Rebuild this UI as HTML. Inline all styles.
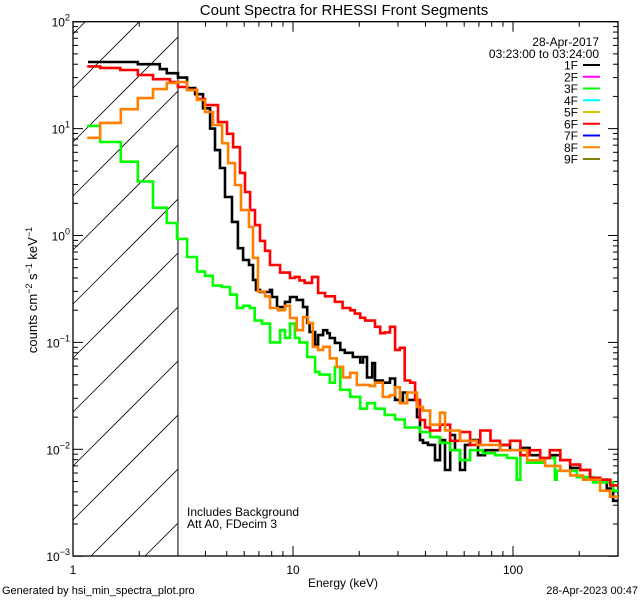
<!DOCTYPE html>
<html><head><meta charset="utf-8">
<style>
html,body{margin:0;padding:0;background:#fff;width:640px;height:600px;overflow:hidden;}
svg{display:block;font-family:"Liberation Sans",sans-serif;overflow:hidden;}
</style></head>
<body>
<svg id="chart" width="640" height="600" viewBox="0 0 640 600" xmlns="http://www.w3.org/2000/svg">
<rect x="0" y="0" width="640" height="600" fill="#fff"/>
<text x="344" y="15" font-size="15" text-anchor="middle">Count Spectra for RHESSI Front Segments</text>
<g id="hatch"></g>
<g id="axes"></g>
<g id="series"></g>
<g id="legend"></g>
<text x="187" y="516" font-size="12">Includes Background</text>
<text x="187" y="528" font-size="12">Att A0, FDecim 3</text>
<text x="343" y="587" font-size="12" text-anchor="middle">Energy (keV)</text>
<text transform="translate(37,290) rotate(-90)" font-size="13" text-anchor="middle">counts cm<tspan dy="-5" font-size="9">−2</tspan><tspan dy="5"> s</tspan><tspan dy="-5" font-size="9">−1</tspan><tspan dy="5"> keV</tspan><tspan dy="-5" font-size="9">−1</tspan></text>
<text x="2" y="594" font-size="11">Generated by hsi_min_spectra_plot.pro</text>
<text x="638" y="594" font-size="11" text-anchor="end">28-Apr-2023 00:47</text>
</svg>
<script>
// ---- data ----
const xTickMajors = [1, 10, 100];
const xTickLabels = ["1", "10", "100"];
const yTickExps = [-3, -2, -1, 0, 1, 2];
const legendLabels = ["1F","2F","3F","4F","5F","6F","7F","8F","9F"];
const legendColors = ["#000000","#ff00ff","#00ff00","#00ffff","#d4c800","#ff0000","#0000ff","#ff8000","#808000"];
const legendHeader = ["28-Apr-2017", "03:23:00 to 03:24:00"];

const blackE = [1.17,1.97,2.48,2.67,3.0,3.3,3.59,3.9,4.2,4.42,4.66,4.91,5.28,5.62,5.93,6.31,6.58,6.79,7.08,7.86,8.03,8.46,9.2,9.69,10.4,11.1,11.6,11.9,12.6,13.0,13.7,14.3,14.7,15.5,16.4,17.2,18.2,18.7,20.2,20.8,21.7,22.9,23.6,24.3,25.6,27.6,29.1,30.6,31.6,33,36.6,37.8,39,41.1,44.2,46.6,49.1,51.8,54.5,57.4,60.5,63.8,69.3,74.6,78.6,87.3,96.9,108,119,133,147,164,182,202,224,249,267,285,300];
const blackV = [42,40,36,33,30,24,21,15.5,10,6.3,4.28,2.29,1.34,0.76,0.59,0.53,0.384,0.31,0.296,0.31,0.266,0.214,0.239,0.266,0.25,0.214,0.152,0.125,0.095,0.117,0.13,0.122,0.11,0.099,0.085,0.08,0.08,0.073,0.065,0.073,0.047,0.064,0.044,0.044,0.042,0.046,0.029,0.027,0.034,0.029,0.02,0.0122,0.0115,0.011,0.0079,0.0122,0.0064,0.0136,0.0098,0.0064,0.011,0.0122,0.0088,0.0098,0.0098,0.011,0.0098,0.0103,0.0088,0.0083,0.0088,0.0079,0.0067,0.0064,0.0054,0.0052,0.0043,0.0033];

const greenE = [1.16,1.33,1.65,1.97,2.31,2.67,2.97,3.3,3.66,3.98,4.32,4.75,5.17,5.56,5.93,6.37,6.7,7.23,7.86,8.74,9.2,9.69,10.2,10.7,11.6,12.6,13.2,14.7,15.5,16.4,18.2,20.2,21.7,23.6,26.1,29.1,32.2,37.8,42,46.6,51.8,57.4,63.8,73,82.8,94,104,108,116,140,155,158,195,231,285,300];
const greenV = [10.6,7.5,4.9,3.2,1.82,1.31,0.93,0.63,0.46,0.42,0.34,0.33,0.28,0.21,0.22,0.21,0.16,0.15,0.1,0.13,0.11,0.15,0.11,0.1,0.073,0.053,0.05,0.042,0.059,0.036,0.031,0.024,0.027,0.024,0.021,0.019,0.016,0.0145,0.013,0.0115,0.0098,0.0079,0.0098,0.0092,0.0088,0.0083,0.0052,0.0098,0.0075,0.0083,0.0052,0.0063,0.0055,0.0049,0.0041];

const redE = [1.16,1.33,1.64,1.97,2.31,2.76,3.0,3.3,3.66,3.98,4.56,5.01,5.34,5.74,6.05,6.38,6.72,7.08,7.46,7.86,8.74,9.69,10.2,10.7,11.3,12.2,13.0,14.0,15.5,16.8,18.2,19.1,20.2,21.3,23.6,24.9,26.1,27.6,29.1,30.6,32.2,34.1,35.9,37.8,39.8,42,46.6,51.8,57.4,63.8,71,79,87.3,96.9,108,119,133,147,164,182,202,224,249,277,300];
const redV = [38.2,37,35.3,31.7,29,27.2,24.5,23,18.9,16.6,11.5,8.95,6.7,3.85,2.55,1.73,1.25,0.89,0.72,0.53,0.45,0.4,0.41,0.38,0.36,0.41,0.29,0.27,0.24,0.21,0.2,0.186,0.17,0.16,0.14,0.122,0.124,0.14,0.085,0.089,0.044,0.042,0.029,0.0188,0.016,0.015,0.017,0.012,0.0145,0.011,0.015,0.012,0.011,0.012,0.0088,0.0098,0.0083,0.0098,0.0079,0.0072,0.0064,0.0054,0.0052,0.0046];

const orangeE = [1.16,1.33,1.65,1.97,2.31,2.67,2.97,3.3,3.66,3.98,4.33,4.76,5.07,5.45,5.8,6.31,6.58,6.93,7.46,7.86,8.55,9.2,9.69,10.4,11.1,11.7,12.3,13.0,13.7,14.7,15.8,16.9,18.2,19.5,22.4,23.6,25.6,27.6,29.1,30.6,33,36.6,39,42,46.6,49.1,57.4,68.6,87.3,116,140,164,182,208,249,276,300];
const orangeV = [8.2,11.3,15.2,19.3,23.4,26.7,27.3,23,18.5,14.3,10.8,7.3,4.76,2.97,1.73,1.2,0.617,0.3,0.27,0.21,0.2,0.22,0.169,0.13,0.173,0.152,0.091,0.085,0.091,0.071,0.059,0.047,0.052,0.04,0.039,0.042,0.031,0.032,0.038,0.027,0.034,0.0249,0.023,0.017,0.022,0.015,0.012,0.011,0.0098,0.0079,0.007,0.0063,0.0057,0.0052,0.0041,0.0036];

// ---- axes mapping ----
const X0 = 73, XDEC = 220, YTOP = 21.7, YDEC = 106.9, XR = 618, YB = 556;
function sx(e){ return X0 + Math.log10(e) * XDEC; }
function sy(v){ return YTOP + (2 - Math.log10(v)) * YDEC; }

const NS = "http://www.w3.org/2000/svg";
function mk(tag, attrs, parent){ const el = document.createElementNS(NS, tag); for (const k in attrs) el.setAttribute(k, attrs[k]); parent.appendChild(el); return el; }

// hatch (lines computed to stay inside the hatched box)
const hatch = document.getElementById('hatch');
const HX1 = sx(3);
const hg = mk('g', {stroke:'#000', 'stroke-width':'0.8'}, hatch);
for (let k = -6; k <= 8; k++) {
  const c = 250 + k * 54; // y where the line meets x = X0
  // line: y = c - (x - X0)
  let xa = X0, ya = c;
  if (ya > YB) { xa = X0 + (ya - YB); ya = YB; }
  let xb = HX1, yb = c - (HX1 - X0);
  if (yb < YTOP) { xb = X0 + (c - YTOP); yb = YTOP; }
  if (xa >= xb) continue;
  const ln = mk('line', {x1:xa, y1:ya, x2:xb, y2:yb}, hg);
  
  
}
const vl = mk('line', {x1:HX1, y1:YTOP, x2:HX1, y2:YB, stroke:'#000', 'stroke-width':'1'}, hatch);



// axes
const axes = document.getElementById('axes');
const frame = mk('rect', {x:X0, y:YTOP, width:XR-X0, height:YB-YTOP, fill:'none', stroke:'#000', 'stroke-width':'1.3'}, axes);


for (let d = 0; d < 3; d++) {
  for (let m = 1; m <= 9; m++) {
    const e = Math.pow(10, d) * m;
    if (e > 300) break;
    const x = sx(e), len = m === 1 ? 10 : 5;
    mk('line', {x1:x, y1:YB, x2:x, y2:YB-len, stroke:'#000'}, axes);
    mk('line', {x1:x, y1:YTOP, x2:x, y2:YTOP+len, stroke:'#000'}, axes);
  }
}
xTickMajors.forEach((e, i) => {
  const t = mk('text', {x:sx(e), y:YB+18, 'font-size':'12', 'text-anchor':'middle'}, axes);
  t.textContent = xTickLabels[i];
  
  
});
yTickExps.forEach(p => {
  const y = sy(Math.pow(10, p));
  mk('line', {x1:X0, y1:y, x2:X0+10, y2:y, stroke:'#000'}, axes);
  mk('line', {x1:XR, y1:y, x2:XR-10, y2:y, stroke:'#000'}, axes);
  if (p < 2) for (let m = 2; m <= 9; m++) {
    const ym = sy(m * Math.pow(10, p));
    mk('line', {x1:X0, y1:ym, x2:X0+5, y2:ym, stroke:'#000'}, axes);
    mk('line', {x1:XR, y1:ym, x2:XR-5, y2:ym, stroke:'#000'}, axes);
  }
  const t = mk('text', {x:X0-3, y:y+5, 'font-size':'12', 'text-anchor':'end'}, axes);
  
  
  const ts1 = mk('tspan', {}, t); ts1.textContent = '10';
  const ts2 = mk('tspan', {dy:'-6', 'font-size':'9'}, t); ts2.textContent = p < 0 ? '−' + (-p) : String(p);
});

// series
const series = document.getElementById('series');
const sclip = mk('clipPath', {id:'pclip'}, series);
mk('rect', {x:X0, y:YTOP, width:XR-X0, height:YB-YTOP}, sclip);
function stepPath(E, V){
  let d = 'M' + sx(E[0]).toFixed(1) + ',' + sy(V[0]).toFixed(1);
  for (let i = 0; i < V.length; i++) {
    if (i > 0) d += 'V' + sy(V[i]).toFixed(1);
    d += 'H' + sx(E[i+1]).toFixed(1);
  }
  return d;
}
const seriesDefs = [
  {E:blackE, V:blackV, c:'#000000', n:'series-1f'},
  {E:greenE, V:greenV, c:'#00ff00', n:'series-3f'},
  {E:redE, V:redV, c:'#ff0000', n:'series-6f'},
  {E:orangeE, V:orangeV, c:'#ff8000', n:'series-8f'}
];
seriesDefs.forEach(s => {
  const p = mk('path', {d:stepPath(s.E, s.V), fill:'none', stroke:s.c, 'stroke-width':'2.6', 'clip-path':'url(#pclip)'}, series);
  
  
});

// legend
const legend = document.getElementById('legend');
legendHeader.forEach((h, i) => {
  const t = mk('text', {x:599, y:46 + i*12, 'font-size':'12', 'text-anchor':'end'}, legend);
  t.textContent = h;
  
  
});
legendLabels.forEach((lab, i) => {
  const y = 65 + i * 11.75;
  const t = mk('text', {x:578, y:y+4.5, 'font-size':'12', 'text-anchor':'end'}, legend);
  t.textContent = lab;
  
  
  const l = mk('line', {x1:583, y1:y, x2:600, y2:y, stroke:legendColors[i], 'stroke-width':'2'}, legend);
  
  
});
</script>
</body></html>
